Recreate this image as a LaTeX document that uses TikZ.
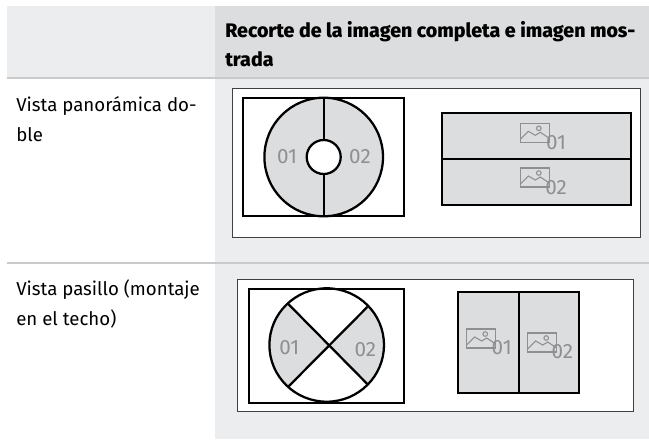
\documentclass[tikz,border=0pt]{standalone}
\usepackage{fontspec}
\setmainfont{Fira Sans}
\newfontfamily\headfont{Fira Sans ExtraBold}
\usetikzlibrary{positioning}
\definecolor{cellgray}{HTML}{ECEDEF}
\definecolor{headgray}{HTML}{DCDDDE}
\definecolor{rulegray}{HTML}{C9CACB}
\definecolor{labelgray}{HTML}{8E8F90}
\newcommand{\pictureicon}[2]{%
  \draw [icon] (#1,#2) rectangle ++(29,19);
  \draw [icon] (#1,#2+16) -- ++(8,-8) -- ++(7,4) -- ++(5,-3) -- ++(9,6);
  \draw [icon] (#1+18.5,#2+5) circle (2.3);
}
\begin{document}
\begin{tikzpicture} [
            x=0.75pt, y=-0.75pt,
            panel/.style    = { draw=black!75, fill=white, line width=0.6pt },
            frame/.style    = { draw=black, line width=1.7pt },
            crop/.style     = { draw=black, fill=headgray, line width=1.7pt },
            icon/.style     = { draw=labelgray, line width=0.8pt },
            num/.style      = { text=labelgray, font=\fontsize{15.5}{16}\selectfont, inner sep=0pt },
            body/.style     = { anchor=west, align=left, inner sep=0pt, font=\fontsize{14}{22}\selectfont },
            head/.style     = { anchor=west, align=left, inner sep=0pt, font=\fontsize{14.7}{22}\selectfont\headfont },
          ]
          \useasboundingbox (0,0) rectangle (649,439);

          % cells
          \fill [cellgray] (7,6) rectangle (215,77);
          \fill [headgray] (215,6) rectangle (649,77);
          \fill [cellgray] (215,77) rectangle (649,439);
          \draw [rulegray, line width=1.4pt] (7,78) -- (649,78);
          \draw [rulegray, line width=1.4pt] (7,263) -- (649,263);

          % texts
          \node (title) [head] at (225,44) {Recorte de la imagen completa e imagen mos-\\trada};
          \node (row1) [body] at (16,119) {Vista panorámica do-\\ble};
          \node (row2) [body] at (16,304) {Vista pasillo (montaje\\en el techo)};

          % upper panel
          \draw [panel] (232.5,88.5) rectangle (640,237.5);
          \draw [frame] (243.3,98) rectangle (403.7,216);
          \draw [crop] (323.7,157) circle (59.3);
          \draw [frame] (323.7,98) -- (323.7,216);
          \draw [frame, fill=white] (323.7,157) circle (17);
          \node (a1) [num] at (287,157) {01};
          \node (a2) [num] at (360,157) {02};
          \draw [crop] (441.7,112.7) rectangle (631,205);
          \draw [frame] (441.7,158.7) -- (631,158.7);
          \pictureicon{520.3}{123.3}
          \pictureicon{520.3}{168}
          \node (b1) [num] at (556,143) {01};
          \node (b2) [num] at (556,187.5) {02};

          % lower panel
          \draw [panel] (237.7,279) rectangle (633.3,411);
          \draw [frame] (249,289) rectangle (403.7,402.7);
          \begin{scope}
            \clip (326.7,345) ellipse (57.3 and 56.7);
            \fill [headgray] (329,345.7) -- (229,245.7) -- (229,445.7) -- cycle;
            \fill [headgray] (329,345.7) -- (429,245.7) -- (429,445.7) -- cycle;
          \end{scope}
          \draw [frame] (326.7,345) ellipse (57.3 and 56.7);
          \draw [frame] (288.3,304) -- (367.3,384);
          \draw [frame] (367.3,307) -- (288.3,386.7);
          \node (c1) [num] at (289.3,347.7) {01};
          \node (c2) [num] at (365.3,349.7) {02};
          \draw [crop] (458.3,292) rectangle (579,393.3);
          \draw [frame] (518.7,292) -- (518.7,393.3);
          \pictureicon{466.7}{329}
          \pictureicon{527.7}{333}
          \node (d1) [num] at (501.7,348) {01};
          \node (d2) [num] at (562.3,352) {02};
        \end{tikzpicture}
\end{document}
